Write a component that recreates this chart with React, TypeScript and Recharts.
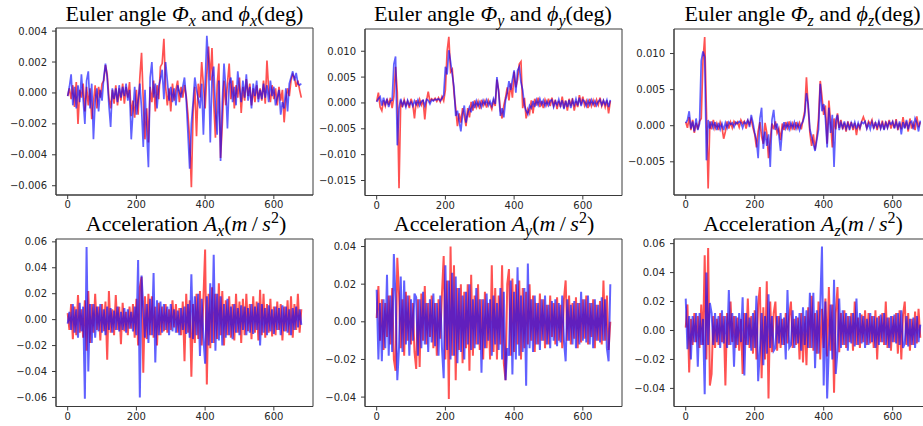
import React from "react";
import { LineChart, Line, XAxis, YAxis, ReferenceArea } from "recharts";

// Sample spacing of the stored series along the index axis.
const SAMPLE_STEP = 5;
const X_TICKS = [0, 200, 400, 600];
const X_DOMAIN: [number, number] = [-34, 714];

// Euler angle, x component (deg): reference Φx (red) and estimate φx (blue)
const EULER_X_RED = [
  -0.0002, 0.0003, -0.0004, 0.0005, -0.0009, 0.0007, -0.0020, 0.0002, -0.0003, 0.0006,
  -0.0012, 0.0004, -0.0008, 0.0003, -0.0017, -0.0006, 0.0005, -0.0010, 0.0004, -0.0003,
  0.0006, 0.0008, 0.0018, 0.0012, -0.0003, -0.0010, 0.0002, -0.0007, 0.0005, -0.0008,
  0.0003, -0.0005, 0.0006, -0.0007, 0.0004, -0.0003, 0.0007, -0.0015, -0.0005, -0.0016,
  0.0002, -0.0014, 0.0010, 0.0026, -0.0005, -0.0030, -0.0010, -0.0032, 0.0004, -0.0006,
  0.0008, -0.0012, 0.0005, -0.0004, 0.0017, 0.0019, 0.0035, 0.0004, -0.0008, 0.0003,
  -0.0012, 0.0006, -0.0005, 0.0002, 0.0008, -0.0006, 0.0004, -0.0003, 0.0005, -0.0002,
  -0.0014, -0.0030, -0.0061, -0.0012, 0.0004, -0.0028, 0.0006, -0.0003, 0.0020, 0.0005,
  -0.0010, 0.0012, 0.0030, 0.0008, 0.0029, -0.0006, -0.0029, 0.0005, 0.0019, -0.0042,
  -0.0020, 0.0008, -0.0008, 0.0006, 0.0019, -0.0004, 0.0008, -0.0010, 0.0005, -0.0003,
  0.0010, -0.0013, 0.0004, -0.0005, 0.0009, -0.0002, 0.0006, -0.0008, 0.0003, -0.0006,
  0.0005, -0.0004, 0.0003, -0.0005, 0.0008, -0.0007, 0.0021, 0.0002, -0.0006, 0.0005,
  -0.0004, 0.0003, -0.0008, 0.0004, -0.0005, 0.0002, -0.0019, -0.0004, 0.0003, -0.0002,
  0.0008, 0.0012, 0.0010, 0.0004, 0.0008, 0.0002, -0.0003,
];
const EULER_X_BLUE = [
  -0.0002, 0.0004, 0.0012, -0.0008, 0.0004, -0.0010, 0.0005, -0.0006, 0.0012, -0.0004,
  -0.0020, 0.0008, 0.0014, -0.0010, 0.0006, -0.0030, -0.0005, 0.0003, -0.0012, 0.0002,
  -0.0005, 0.0010, 0.0019, 0.0010, -0.0008, -0.0022, 0.0003, -0.0004, 0.0003, -0.0006,
  0.0005, -0.0003, 0.0004, -0.0002, 0.0006, -0.0005, 0.0002, -0.0030, -0.0012, 0.0004,
  -0.0014, -0.0005, 0.0006, -0.0010, -0.0035, 0.0002, -0.0025, -0.0048, 0.0010, 0.0020,
  -0.0003, 0.0006, -0.0010, 0.0004, 0.0009, 0.0015, -0.0004, 0.0020, 0.0008, -0.0005,
  0.0004, -0.0006, 0.0003, -0.0008, 0.0005, 0.0001, -0.0003, 0.0004, 0.0010, -0.0004,
  -0.0026, -0.0049, -0.0020, -0.0006, 0.0010, 0.0002, -0.0004, -0.0010, 0.0006, -0.0027,
  0.0005, 0.0037, 0.0020, -0.0032, 0.0010, 0.0017, -0.0010, -0.0027, 0.0008, -0.0044,
  -0.0006, 0.0019, 0.0003, -0.0023, 0.0006, 0.0010, -0.0006, 0.0004, -0.0008, 0.0014,
  0.0003, -0.0006, 0.0008, -0.0003, 0.0012, -0.0005, 0.0004, -0.0010, 0.0006, -0.0002,
  0.0008, -0.0006, 0.0002, -0.0004, 0.0006, -0.0003, 0.0005, -0.0006, 0.0008, -0.0002,
  0.0004, -0.0008, -0.0003, 0.0002, -0.0014, -0.0006, -0.0010, 0.0003, -0.0012, 0.0006,
  0.0010, 0.0014, 0.0008, 0.0013, 0.0006, 0.0005, 0.0006,
];

// Euler angle, y component (deg)
const EULER_Y_RED = [
  0.0003, 0.0020, -0.0008, -0.0015, 0.0005, -0.0006, 0.0008, -0.0004, 0.0010, -0.0010,
  0.0012, 0.0070, 0.0020, -0.0165, 0.0005, -0.0008, 0.0006, -0.0005, 0.0003, -0.0010,
  0.0008, -0.0002, -0.0030, 0.0005, -0.0006, 0.0007, -0.0004, 0.0006, -0.0032, 0.0004,
  0.0022, 0.0003, 0.0008, 0.0005, 0.0009, 0.0003, 0.0010, 0.0002, 0.0012, 0.0004,
  0.0025, 0.0100, 0.0128, 0.0060, 0.0065, 0.0020, -0.0010, -0.0045, -0.0020, -0.0038,
  -0.0010, -0.0025, -0.0045, -0.0010, -0.0028, 0.0002, -0.0015, 0.0005, -0.0008, 0.0003,
  -0.0012, 0.0006, -0.0005, 0.0004, -0.0009, 0.0005, -0.0003, -0.0012, 0.0004, -0.0006,
  0.0045, 0.0025, -0.0015, -0.0030, -0.0005, 0.0010, 0.0030, 0.0005, 0.0038, 0.0010,
  0.0060, 0.0030, 0.0045, 0.0075, 0.0080, -0.0010, 0.0010, -0.0030, -0.0012, -0.0020,
  0.0005, -0.0020, 0.0008, -0.0005, 0.0010, -0.0008, 0.0004, -0.0010, 0.0006, -0.0004,
  0.0008, -0.0006, 0.0010, -0.0005, 0.0006, -0.0012, 0.0004, -0.0008, 0.0012, -0.0010,
  0.0005, -0.0015, 0.0008, -0.0006, 0.0009, -0.0015, 0.0004, -0.0008, 0.0015, -0.0003,
  0.0012, -0.0005, 0.0004, -0.0010, 0.0008, -0.0006, 0.0005, -0.0008, 0.0006, -0.0004,
  0.0010, -0.0006, 0.0004, -0.0008, 0.0005, -0.0020, 0.0004,
];
const EULER_Y_BLUE = [
  0.0002, 0.0008, 0.0012, -0.0005, 0.0010, -0.0003, 0.0006, -0.0008, 0.0004, 0.0005,
  0.0075, 0.0090, -0.0082, -0.0010, 0.0008, -0.0005, 0.0003, -0.0008, 0.0005, -0.0004,
  0.0002, -0.0006, 0.0004, -0.0003, 0.0006, -0.0005, 0.0003, 0.0005, -0.0006, 0.0007,
  0.0005, -0.0002, 0.0006, 0.0004, 0.0007, 0.0006, 0.0008, 0.0004, 0.0009, 0.0015,
  0.0070, 0.0055, 0.0102, 0.0080, 0.0055, 0.0030, -0.0025, -0.0015, -0.0035, -0.0055,
  -0.0022, -0.0005, -0.0038, -0.0020, -0.0008, -0.0018, 0.0003, -0.0010, 0.0004, -0.0006,
  0.0002, -0.0008, 0.0005, -0.0003, 0.0006, -0.0005, 0.0003, -0.0006, 0.0008, -0.0002,
  0.0050, 0.0020, -0.0025, -0.0010, -0.0028, 0.0005, 0.0020, 0.0042, 0.0025, 0.0045,
  0.0063, 0.0020, 0.0063, 0.0070, 0.0040, 0.0025, -0.0005, -0.0015, -0.0022, -0.0005,
  -0.0010, 0.0004, -0.0008, 0.0006, -0.0004, 0.0008, -0.0003, 0.0005, -0.0006, 0.0003,
  -0.0005, 0.0004, 0.0006, -0.0008, 0.0003, -0.0004, 0.0007, -0.0006, 0.0005, -0.0012,
  0.0004, -0.0008, 0.0006, -0.0010, 0.0005, -0.0004, 0.0008, -0.0005, 0.0010, -0.0006,
  0.0006, 0.0003, -0.0006, 0.0005, -0.0004, 0.0006, -0.0003, 0.0004, -0.0005, 0.0003,
  0.0006, -0.0004, 0.0005, -0.0003, 0.0006, -0.0008, 0.0006,
];

// Euler angle, z component (deg)
const EULER_Z_RED = [
  0.0005, -0.0003, 0.0012, -0.0006, 0.0008, -0.0010, 0.0004, -0.0005, 0.0006, 0.0010,
  0.0090, 0.0123, 0.0020, -0.0087, 0.0006, -0.0005, 0.0008, -0.0004, 0.0003, -0.0006,
  0.0005, -0.0002, -0.0018, -0.0008, 0.0006, -0.0004, 0.0005, -0.0003, 0.0006, 0.0002,
  0.0005, -0.0002, 0.0008, 0.0003, 0.0006, -0.0004, 0.0007, 0.0002, 0.0009, -0.0003,
  -0.0012, -0.0030, -0.0008, 0.0005, -0.0015, -0.0025, 0.0004, -0.0010, -0.0045, -0.0020,
  0.0003, -0.0005, 0.0006, -0.0010, -0.0004, -0.0020, 0.0003, -0.0006, 0.0005, -0.0003,
  0.0006, -0.0004, 0.0003, -0.0006, 0.0005, -0.0003, 0.0004, -0.0005, 0.0008, 0.0020,
  0.0067, 0.0025, -0.0010, -0.0028, -0.0012, -0.0033, -0.0015, 0.0010, 0.0062, 0.0040,
  0.0015, 0.0028, -0.0025, 0.0035, 0.0005, -0.0030, 0.0010, -0.0005, 0.0017, -0.0003,
  0.0008, -0.0005, 0.0004, -0.0008, 0.0006, -0.0003, 0.0005, -0.0006, 0.0004, -0.0013,
  0.0003, -0.0004, 0.0006, 0.0012, 0.0005, -0.0003, 0.0006, 0.0002, 0.0008, -0.0004,
  0.0005, -0.0006, 0.0004, -0.0003, 0.0007, -0.0005, 0.0006, -0.0002, 0.0008, -0.0004,
  0.0005, -0.0003, 0.0009, -0.0006, 0.0004, -0.0005, 0.0012, -0.0003, 0.0006, -0.0008,
  0.0010, -0.0004, 0.0003, -0.0006, 0.0013, -0.0002, 0.0005,
];
const EULER_Z_BLUE = [
  0.0004, 0.0008, 0.0020, -0.0004, 0.0006, -0.0008, 0.0010, -0.0006, 0.0003, 0.0090,
  0.0103, 0.0095, -0.0048, 0.0008, -0.0004, 0.0006, -0.0003, 0.0005, -0.0006, 0.0004,
  -0.0005, 0.0003, -0.0006, 0.0004, -0.0003, 0.0005, 0.0002, 0.0004, -0.0002, 0.0005,
  0.0003, 0.0006, 0.0004, -0.0003, 0.0005, 0.0003, 0.0008, -0.0002, 0.0015, 0.0004,
  -0.0010, -0.0020, -0.0045, 0.0010, 0.0025, -0.0032, -0.0008, -0.0028, -0.0012, -0.0057,
  0.0008, 0.0022, -0.0006, 0.0003, -0.0012, -0.0035, -0.0006, 0.0005, -0.0004, 0.0003,
  -0.0005, 0.0004, -0.0003, 0.0005, -0.0004, 0.0003, -0.0006, 0.0002, 0.0006, 0.0015,
  0.0045, 0.0030, -0.0005, -0.0015, -0.0025, -0.0035, -0.0020, -0.0005, 0.0058, 0.0020,
  0.0030, 0.0010, -0.0030, 0.0025, -0.0010, 0.0015, -0.0057, 0.0008, 0.0015, -0.0006,
  0.0004, -0.0003, 0.0006, -0.0004, 0.0003, -0.0006, 0.0004, -0.0002, 0.0005, -0.0005,
  0.0004, -0.0003, 0.0005, 0.0003, 0.0006, -0.0004, 0.0003, -0.0005, 0.0005, -0.0003,
  0.0004, -0.0002, 0.0006, -0.0004, 0.0003, -0.0006, 0.0004, -0.0003, 0.0005, 0.0002,
  0.0006, -0.0004, 0.0005, -0.0003, 0.0006, -0.0012, 0.0005, -0.0004, 0.0008, -0.0005,
  0.0004, 0.0006, -0.0005, 0.0010, 0.0004, -0.0008, 0.0007,
];

// Acceleration, x component (m/s^2)
const ACCEL_X_RED = [
  0.005, -0.008, 0.012, -0.015, 0.010, -0.012, 0.019, -0.010, 0.008, -0.014,
  0.015, -0.024, 0.022, -0.018, 0.012, -0.010, 0.020, -0.008, 0.010, -0.016,
  0.012, -0.009, 0.014, -0.031, 0.022, -0.010, 0.008, -0.012, 0.019, -0.008,
  0.010, -0.019, 0.013, -0.009, 0.006, -0.012, 0.010, -0.007, 0.012, -0.014,
  0.016, -0.020, 0.025, 0.033, -0.041, 0.018, -0.015, 0.020, -0.012, 0.018,
  -0.014, 0.010, -0.020, 0.013, -0.012, 0.010, -0.009, 0.012, -0.010, 0.008,
  -0.008, 0.015, -0.006, 0.012, -0.010, 0.009, -0.012, 0.014, -0.032, 0.020,
  -0.010, 0.015, -0.044, 0.012, -0.018, 0.020, -0.015, 0.022, -0.020, 0.016,
  0.054, -0.050, 0.020, -0.022, 0.025, -0.018, 0.020, -0.015, 0.028, -0.012,
  0.022, -0.020, 0.015, -0.012, 0.018, -0.014, 0.012, -0.016, 0.020, -0.010,
  0.014, -0.018, 0.016, -0.012, 0.020, -0.009, 0.012, -0.015, 0.018, -0.010,
  0.014, -0.016, 0.023, -0.012, 0.020, -0.014, 0.012, -0.010, 0.016, -0.013,
  0.010, -0.012, 0.014, -0.008, 0.012, -0.016, 0.010, -0.009, 0.015, -0.012,
  0.018, -0.014, 0.012, -0.008, 0.020, -0.010, 0.008,
];
const ACCEL_X_BLUE = [
  -0.003, 0.006, -0.008, 0.012, -0.010, 0.008, -0.014, 0.013, -0.009, 0.010,
  -0.061, 0.056, -0.040, 0.012, -0.018, 0.012, -0.014, 0.010, -0.009, 0.012,
  -0.010, 0.008, -0.012, 0.010, -0.008, 0.009, -0.010, 0.007, -0.008, 0.010,
  -0.009, 0.006, -0.008, 0.009, -0.010, 0.008, -0.007, 0.006, -0.009, 0.010,
  -0.012, 0.046, -0.060, 0.034, 0.010, -0.014, 0.012, -0.018, 0.016, -0.012,
  0.036, -0.033, 0.015, -0.012, 0.014, -0.010, 0.012, -0.008, 0.010, -0.012,
  0.012, -0.009, 0.008, -0.010, 0.007, -0.012, 0.009, -0.008, 0.010, -0.011,
  0.012, -0.014, 0.035, -0.015, 0.018, -0.012, 0.020, -0.028, 0.016, -0.014,
  -0.034, 0.018, -0.020, 0.028, -0.018, 0.050, -0.024, 0.020, -0.016, 0.018,
  -0.020, 0.012, -0.014, 0.016, -0.012, 0.010, -0.015, 0.012, -0.010, 0.009,
  -0.012, 0.011, -0.008, 0.010, -0.012, 0.009, -0.010, 0.012, -0.011, 0.010,
  -0.008, 0.013, -0.020, 0.012, -0.010, 0.009, -0.012, 0.011, -0.009, 0.008,
  -0.011, 0.010, -0.008, 0.009, -0.012, 0.011, -0.009, 0.010, -0.010, 0.008,
  -0.012, 0.009, -0.008, 0.010, -0.006, 0.008, -0.004,
];

// Acceleration, y component (m/s^2)
const ACCEL_Y_RED = [
  0.002, 0.019, -0.010, 0.012, -0.015, 0.010, -0.008, 0.014, -0.012, 0.018,
  -0.020, -0.026, 0.034, 0.015, -0.014, 0.012, -0.018, 0.016, -0.010, 0.014,
  -0.012, 0.010, -0.016, -0.025, 0.012, -0.024, 0.015, -0.010, 0.019, -0.012,
  0.010, -0.008, 0.014, -0.014, 0.010, -0.018, 0.012, -0.009, 0.015, 0.035,
  -0.020, 0.022, -0.041, 0.040, -0.018, 0.030, -0.031, 0.018, -0.015, 0.020,
  -0.022, 0.016, -0.014, 0.020, -0.026, 0.025, -0.018, 0.014, -0.012, 0.020,
  -0.015, 0.012, -0.020, 0.016, -0.014, 0.010, -0.020, 0.030, -0.016, 0.018,
  -0.020, 0.014, -0.012, 0.030, -0.022, -0.031, 0.020, 0.028, -0.018, 0.023,
  -0.016, 0.020, -0.012, 0.022, -0.020, 0.018, -0.014, 0.016, -0.012, 0.020,
  -0.010, 0.014, -0.016, 0.010, -0.012, 0.015, -0.010, 0.012, -0.014, 0.009,
  -0.012, 0.014, -0.008, 0.010, -0.012, 0.013, -0.010, 0.009, -0.014, 0.012,
  0.022, -0.010, 0.014, -0.012, 0.010, -0.009, 0.013, -0.014, 0.010, -0.011,
  0.012, -0.009, 0.014, -0.012, 0.010, -0.008, 0.012, -0.014, 0.009, -0.010,
  0.011, -0.012, 0.022, -0.010, 0.014, -0.015, 0.000,
];
const ACCEL_Y_BLUE = [
  0.017, -0.020, 0.010, -0.021, 0.012, -0.014, 0.025, -0.018, 0.014, -0.016,
  0.036, 0.012, -0.031, -0.014, 0.024, -0.016, 0.022, -0.012, 0.014, -0.018,
  0.012, -0.010, 0.015, 0.013, -0.018, 0.012, -0.014, 0.016, -0.012, 0.010,
  -0.016, 0.012, -0.011, 0.015, -0.013, 0.010, -0.018, 0.014, -0.014, -0.030,
  0.030, -0.015, 0.022, -0.020, 0.026, -0.018, 0.024, -0.022, 0.018, -0.016,
  0.014, -0.020, 0.016, -0.012, 0.020, -0.015, 0.012, -0.014, 0.018, -0.012,
  0.012, -0.027, 0.012, -0.014, 0.015, -0.010, 0.012, -0.018, 0.014, -0.012,
  0.010, -0.015, 0.018, -0.020, 0.016, -0.031, -0.014, -0.018, 0.022, -0.028,
  0.016, -0.020, 0.029, -0.018, 0.014, -0.016, 0.018, -0.034, 0.031, -0.014,
  0.012, -0.016, 0.014, -0.012, 0.010, -0.015, 0.012, -0.010, 0.014, -0.012,
  0.009, -0.014, 0.011, -0.010, 0.012, -0.013, 0.010, -0.011, 0.014, -0.010,
  -0.021, 0.012, -0.010, 0.009, -0.012, 0.011, -0.014, 0.010, -0.012, 0.016,
  -0.010, 0.012, -0.011, 0.014, -0.012, 0.010, -0.014, 0.012, -0.010, 0.009,
  -0.011, 0.013, -0.010, 0.012, -0.014, -0.021, 0.020,
];

// Acceleration, z component (m/s^2)
const ACCEL_Z_RED = [
  0.002, 0.018, -0.029, 0.008, -0.010, 0.012, -0.008, 0.010, -0.012, 0.018,
  -0.010, 0.052, -0.020, 0.057, -0.038, -0.030, 0.010, -0.012, 0.008, -0.010,
  0.012, -0.008, 0.010, -0.038, 0.012, -0.010, 0.020, -0.008, 0.010, -0.012,
  0.009, -0.014, 0.008, -0.030, 0.012, -0.010, 0.022, -0.012, 0.010, -0.016,
  0.014, -0.020, 0.018, 0.030, -0.033, 0.016, -0.020, 0.034, -0.047, 0.020,
  -0.015, 0.012, 0.020, -0.014, 0.010, -0.012, 0.008, -0.010, 0.012, -0.009,
  0.010, 0.020, -0.012, 0.008, -0.010, 0.009, -0.020, 0.012, -0.022, 0.010,
  -0.024, 0.016, -0.012, 0.024, -0.014, 0.012, -0.016, 0.020, -0.020, 0.015,
  -0.012, 0.022, -0.018, 0.030, -0.014, 0.018, -0.043, 0.012, 0.030, -0.015,
  0.012, -0.010, 0.014, -0.012, 0.010, -0.008, 0.012, -0.014, 0.020, -0.010,
  0.009, -0.012, 0.011, -0.008, 0.014, -0.010, 0.012, -0.009, 0.010, -0.012,
  0.014, -0.020, 0.010, -0.008, 0.012, -0.010, 0.020, -0.012, 0.009, -0.014,
  0.010, -0.008, 0.012, -0.016, 0.014, -0.020, 0.011, 0.020, -0.010, 0.012,
  -0.014, 0.008, -0.010, 0.013, -0.009, 0.015, -0.005,
];
const ACCEL_Z_BLUE = [
  0.022, -0.013, 0.010, -0.020, 0.010, -0.008, 0.012, -0.025, 0.012, -0.010,
  0.008, -0.044, 0.040, -0.010, 0.019, 0.012, -0.010, 0.012, -0.008, 0.010,
  -0.012, 0.014, -0.009, 0.010, -0.012, 0.028, -0.010, 0.012, -0.025, 0.010,
  -0.010, 0.012, -0.008, 0.023, -0.031, 0.012, -0.010, 0.009, -0.014, 0.012,
  -0.012, 0.024, -0.035, -0.014, 0.012, -0.024, 0.010, -0.016, 0.025, -0.012,
  0.010, -0.014, -0.012, 0.010, -0.009, 0.012, -0.010, 0.009, -0.020, 0.028,
  -0.012, -0.010, 0.014, -0.012, 0.010, -0.009, 0.012, -0.014, 0.016, -0.010,
  0.014, -0.012, 0.026, -0.012, 0.026, -0.026, 0.014, -0.016, 0.018, 0.058,
  -0.038, 0.020, -0.047, -0.012, 0.018, -0.020, 0.035, -0.030, -0.014, 0.022,
  -0.012, 0.014, -0.010, 0.012, -0.014, 0.010, -0.009, 0.012, -0.011, 0.022,
  -0.010, 0.012, -0.009, 0.010, -0.012, 0.008, -0.010, 0.012, -0.008, 0.010,
  -0.012, 0.009, -0.010, 0.011, -0.008, 0.012, -0.010, 0.009, -0.012, 0.010,
  -0.008, 0.011, -0.009, 0.012, -0.010, 0.014, -0.012, -0.009, 0.010, -0.011,
  0.008, -0.010, 0.009, -0.012, 0.010, -0.008, 0.004,
];

const EULER_X_TICKS = [-0.006, -0.004, -0.002, 0, 0.002, 0.004];
const EULER_Y_TICKS = [-0.015, -0.01, -0.005, 0, 0.005, 0.01];
const EULER_Z_TICKS = [-0.005, 0, 0.005, 0.01];
const ACCEL_X_TICKS = [-0.06, -0.04, -0.02, 0, 0.02, 0.04, 0.06];
const ACCEL_Y_TICKS = [-0.04, -0.02, 0, 0.02, 0.04];
const ACCEL_Z_TICKS = [-0.04, -0.02, 0, 0.02, 0.04, 0.06];

const RED = "#ff0000";
const BLUE = "#0000ff";
const SPINE = "#3a3a3a";
const TICK_TEXT = { fill: "#262626", fontSize: 10, fontFamily: "DejaVu Sans" };

type Box = { left: number; top: number; width: number; height: number };

function buildRows(red: number[], blue: number[]) {
  const n = Math.min(red.length, blue.length);
  const rows: { t: number; red: number; blue: number }[] = [];
  for (let i = 0; i < n; i++) {
    rows.push({ t: i * SAMPLE_STEP, red: red[i], blue: blue[i] });
  }
  return rows;
}

const formatTick = (digits: number) => (v: number) =>
  (v < 0 ? "\u2212" : "") + Math.abs(v).toFixed(digits);

const Y_AXIS_W = 56;
const PAD_TOP = 10;
const PAD_RIGHT = 10;
const X_AXIS_H = 22;

function Panel(props: {
  box: Box;
  domain: [number, number];
  ticks: number[];
  digits: number;
  red: number[];
  blue: number[];
  lineWidth: number;
}) {
  const { box, domain, ticks, digits, red, blue, lineWidth } = props;
  const data = buildRows(red, blue);
  return (
    <div style={{ position: "absolute", left: box.left - Y_AXIS_W, top: box.top - PAD_TOP }}>
      <LineChart
        width={box.width + Y_AXIS_W + PAD_RIGHT}
        height={box.height + PAD_TOP + X_AXIS_H}
        data={data}
        margin={{ top: PAD_TOP, right: PAD_RIGHT, bottom: 0, left: 0 }}
      >
        <XAxis
          dataKey="t"
          type="number"
          domain={X_DOMAIN}
          ticks={X_TICKS}
          interval={0}
          allowDataOverflow
          height={X_AXIS_H}
          tickSize={4}
          tickMargin={2}
          axisLine={{ stroke: SPINE }}
          tickLine={{ stroke: SPINE }}
          tick={TICK_TEXT}
        />
        <YAxis
          type="number"
          domain={domain}
          ticks={ticks}
          interval={0}
          allowDataOverflow
          width={Y_AXIS_W}
          tickSize={4}
          tickMargin={5}
          tickFormatter={formatTick(digits)}
          axisLine={{ stroke: SPINE }}
          tickLine={{ stroke: SPINE }}
          tick={TICK_TEXT}
        />
        <ReferenceArea
          x1={X_DOMAIN[0]}
          x2={X_DOMAIN[1]}
          y1={domain[0]}
          y2={domain[1]}
          fill="none"
          fillOpacity={0}
          stroke={SPINE}
          strokeWidth={1}
          ifOverflow="visible"
        />
        <Line
          type="linear"
          dataKey="red"
          stroke={RED}
          strokeOpacity={0.68}
          strokeWidth={lineWidth}
          dot={false}
          activeDot={false}
          isAnimationActive={false}
        />
        <Line
          type="linear"
          dataKey="blue"
          stroke={BLUE}
          strokeOpacity={0.62}
          strokeWidth={lineWidth}
          dot={false}
          activeDot={false}
          isAnimationActive={false}
        />
      </LineChart>
    </div>
  );
}

const TITLE_FONT = "'Liberation Serif', 'Times New Roman', serif";
const TITLE_SIZE = 22;
const SUB_SIZE = 16;

function EulerTitle({ cx, y, axis }: { cx: number; y: number; axis: string }) {
  return (
    <text x={cx} y={y} textAnchor="middle" fontFamily={TITLE_FONT} fontSize={TITLE_SIZE} fill="#000">
      Euler angle <tspan fontStyle="italic">Φ</tspan>
      <tspan fontStyle="italic" fontSize={SUB_SIZE} dy={5}>{axis}</tspan>
      <tspan dy={-5}> and </tspan>
      <tspan fontStyle="italic">ϕ</tspan>
      <tspan fontStyle="italic" fontSize={SUB_SIZE} dy={5}>{axis}</tspan>
      <tspan dy={-5}>(deg)</tspan>
    </text>
  );
}

function AccelTitle({ cx, y, axis }: { cx: number; y: number; axis: string }) {
  return (
    <text x={cx} y={y} textAnchor="middle" fontFamily={TITLE_FONT} fontSize={TITLE_SIZE} fill="#000">
      Acceleration <tspan fontStyle="italic">A</tspan>
      <tspan fontStyle="italic" fontSize={SUB_SIZE} dy={5}>{axis}</tspan>
      <tspan dy={-5}>(</tspan>
      <tspan fontStyle="italic">m</tspan>
      <tspan>{"\u2009/\u2009"}</tspan>
      <tspan fontStyle="italic">s</tspan>
      <tspan fontSize={SUB_SIZE} dy={-8}>2</tspan>
      <tspan dy={8}>)</tspan>
    </text>
  );
}

const PANELS = [
  { box: { left: 56, top: 28, width: 257, height: 167 }, domain: [-0.0066, 0.0042] as [number, number], ticks: EULER_X_TICKS, digits: 3, red: EULER_X_RED, blue: EULER_X_BLUE, lineWidth: 1.7 },
  { box: { left: 364.5, top: 28.5, width: 257, height: 166.5 }, domain: [-0.0179, 0.0143] as [number, number], ticks: EULER_Y_TICKS, digits: 3, red: EULER_Y_RED, blue: EULER_Y_BLUE, lineWidth: 1.7 },
  { box: { left: 673.5, top: 28.5, width: 258, height: 166 }, domain: [-0.0096, 0.0134] as [number, number], ticks: EULER_Z_TICKS, digits: 3, red: EULER_Z_RED, blue: EULER_Z_BLUE, lineWidth: 1.7 },
  { box: { left: 56, top: 238.5, width: 257, height: 167.5 }, domain: [-0.067, 0.0622] as [number, number], ticks: ACCEL_X_TICKS, digits: 2, red: ACCEL_X_RED, blue: ACCEL_X_BLUE, lineWidth: 2 },
  { box: { left: 364.5, top: 238.5, width: 257, height: 167.5 }, domain: [-0.045, 0.044] as [number, number], ticks: ACCEL_Y_TICKS, digits: 2, red: ACCEL_Y_RED, blue: ACCEL_Y_BLUE, lineWidth: 2 },
  { box: { left: 673.5, top: 238.5, width: 258, height: 167.5 }, domain: [-0.0525, 0.0632] as [number, number], ticks: ACCEL_Z_TICKS, digits: 2, red: ACCEL_Z_RED, blue: ACCEL_Z_BLUE, lineWidth: 2 },
];

export default function App() {
  return (
    <div
      style={{
        position: "absolute",
        left: 0,
        top: 0,
        width: 923,
        height: 426,
        overflow: "hidden",
        background: "#fff",
      }}
    >
      {PANELS.map((p, i) => (
        <Panel key={i} {...p} />
      ))}
      <svg
        width={923}
        height={426}
        style={{ position: "absolute", left: 0, top: 0, pointerEvents: "none" }}
      >
        <EulerTitle cx={184.5} y={20.5} axis="x" />
        <EulerTitle cx={493} y={20.5} axis="y" />
        <EulerTitle cx={802.5} y={20.5} axis="z" />
        <AccelTitle cx={186} y={231} axis="x" />
        <AccelTitle cx={494} y={231} axis="y" />
        <AccelTitle cx={803} y={231} axis="z" />
      </svg>
    </div>
  );
}
